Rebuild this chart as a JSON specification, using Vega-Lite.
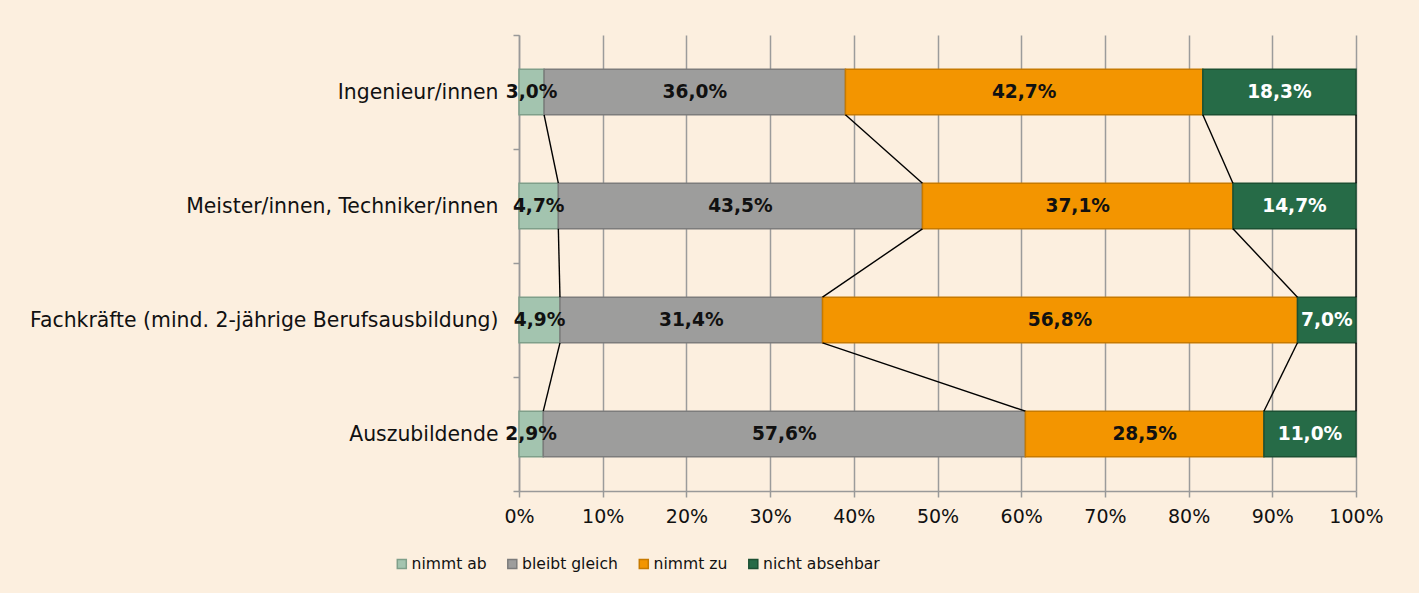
{
  "$schema": "https://vega.github.io/schema/vega-lite/v6.json",
  "autosize": "none",
  "width": 837,
  "height": 456,
  "padding": {"left": 519, "top": 35, "right": 63, "bottom": 102},
  "background": "#fcefdf",
  "config": {
    "view": {"stroke": null},
    "font": "DejaVu Sans",
    "locale": {"number": {"decimal": ",", "thousands": ".", "grouping": [3], "currency": ["", " €"]}},
    "legend": {
      "orient": "none", "legendX": -125, "legendY": 521, "direction": "horizontal",
      "symbolType": "square", "symbolSize": 81, "symbolStrokeWidth": 1.5,
      "labelFontSize": 15.6, "labelColor": "#111", "labelFont": "DejaVu Sans", "labelOffset": 2,
      "columnPadding": 17.5, "title": null, "padding": 0
    }
  },
  "data": {"values": [
    {"cat": "Ingenieur/innen", "ci": 0, "s": "nimmt ab", "o": 0, "v": 0.030},
    {"cat": "Ingenieur/innen", "ci": 0, "s": "bleibt gleich", "o": 1, "v": 0.360},
    {"cat": "Ingenieur/innen", "ci": 0, "s": "nimmt zu", "o": 2, "v": 0.427},
    {"cat": "Ingenieur/innen", "ci": 0, "s": "nicht absehbar", "o": 3, "v": 0.183},
    {"cat": "Meister/innen, Techniker/innen", "ci": 1, "s": "nimmt ab", "o": 0, "v": 0.047},
    {"cat": "Meister/innen, Techniker/innen", "ci": 1, "s": "bleibt gleich", "o": 1, "v": 0.435},
    {"cat": "Meister/innen, Techniker/innen", "ci": 1, "s": "nimmt zu", "o": 2, "v": 0.371},
    {"cat": "Meister/innen, Techniker/innen", "ci": 1, "s": "nicht absehbar", "o": 3, "v": 0.147},
    {"cat": "Fachkräfte (mind. 2-jährige Berufsausbildung)", "ci": 2, "s": "nimmt ab", "o": 0, "v": 0.049},
    {"cat": "Fachkräfte (mind. 2-jährige Berufsausbildung)", "ci": 2, "s": "bleibt gleich", "o": 1, "v": 0.314},
    {"cat": "Fachkräfte (mind. 2-jährige Berufsausbildung)", "ci": 2, "s": "nimmt zu", "o": 2, "v": 0.568},
    {"cat": "Fachkräfte (mind. 2-jährige Berufsausbildung)", "ci": 2, "s": "nicht absehbar", "o": 3, "v": 0.070},
    {"cat": "Auszubildende", "ci": 3, "s": "nimmt ab", "o": 0, "v": 0.029},
    {"cat": "Auszubildende", "ci": 3, "s": "bleibt gleich", "o": 1, "v": 0.576},
    {"cat": "Auszubildende", "ci": 3, "s": "nimmt zu", "o": 2, "v": 0.285},
    {"cat": "Auszubildende", "ci": 3, "s": "nicht absehbar", "o": 3, "v": 0.110}
  ]},
  "encoding": {
    "y": {
      "field": "cat", "type": "nominal",
      "sort": ["Ingenieur/innen", "Meister/innen, Techniker/innen", "Fachkräfte (mind. 2-jährige Berufsausbildung)", "Auszubildende"],
      "scale": {"paddingInner": 0, "paddingOuter": 0},
      "axis": {
        "title": null, "tickBand": "extent", "tickSize": 6, "tickColor": "#999", "tickWidth": 1.5,
        "domainColor": "#999", "domainWidth": 1.5, "labelFontSize": 20.4, "labelColor": "#111",
        "labelPadding": 15, "labelLimit": 700
      }
    }
  },
  "layer": [
    {
      "mark": {"type": "bar", "height": {"band": 0.4}, "strokeWidth": 1.5},
      "encoding": {
        "x": {
          "field": "v", "type": "quantitative", "stack": "normalize",
          "scale": {"domain": [0, 1], "nice": false},
          "axis": {
            "title": null, "format": "%", "values": [0, 0.1, 0.2, 0.3, 0.4, 0.5, 0.6, 0.7, 0.8, 0.9, 1],
            "grid": true, "gridColor": "#9b9b9b", "gridWidth": 1.5, "tickColor": "#999", "tickWidth": 1.5,
            "tickSize": 6, "domainColor": "#999", "domainWidth": 1.5, "labelFontSize": 19, "labelColor": "#111",
            "labelPadding": 10, "labelFlush": false
          }
        },
        "order": {"field": "o"},
        "fill": {
          "field": "s", "type": "nominal",
          "scale": {"domain": ["nimmt ab", "bleibt gleich", "nimmt zu", "nicht absehbar"], "range": ["#a3c4af", "#9d9d9c", "#f39500", "#266b47"]}
        },
        "stroke": {
          "field": "s", "type": "nominal",
          "scale": {"domain": ["nimmt ab", "bleibt gleich", "nimmt zu", "nicht absehbar"], "range": ["#7f9f8a", "#7c7c7c", "#c77a00", "#1b5033"]}
        }
      }
    },
    {
      "transform": [
        {"stack": "v", "groupby": ["cat"], "sort": [{"field": "o"}], "offset": "normalize", "as": ["s0", "s1"]},
        {"calculate": "(datum.s0 + datum.s1) / 2", "as": "mid"}
      ],
      "mark": {"type": "text", "fontWeight": "bold", "fontSize": 18.6, "align": "center", "baseline": "middle", "font": "DejaVu Sans"},
      "encoding": {
        "x": {"field": "mid", "type": "quantitative"},
        "text": {"field": "v", "type": "quantitative", "format": ".1%"},
        "color": {"condition": {"test": "datum.s === 'nicht absehbar'", "value": "#ffffff"}, "value": "#111111"}
      }
    },
    {
      "transform": [
        {"stack": "v", "groupby": ["cat"], "sort": [{"field": "o"}], "offset": "normalize", "as": ["s0", "s1"]},
        {"window": [{"op": "lead", "field": "s1", "as": "n1"}, {"op": "lead", "field": "cat", "as": "ncat"}], "groupby": ["s"], "sort": [{"field": "ci"}]},
        {"filter": "datum.ncat != null"}
      ],
      "mark": {"type": "rule", "color": "#000000", "strokeWidth": 1.4},
      "encoding": {
        "x": {"field": "s1", "type": "quantitative"},
        "x2": {"field": "n1"},
        "y": {"field": "cat", "type": "nominal", "bandPosition": 0.7, "sort": ["Ingenieur/innen", "Meister/innen, Techniker/innen", "Fachkräfte (mind. 2-jährige Berufsausbildung)", "Auszubildende"]},
        "y2": {"field": "ncat", "bandPosition": 0.3}
      }
    }
  ]
}
